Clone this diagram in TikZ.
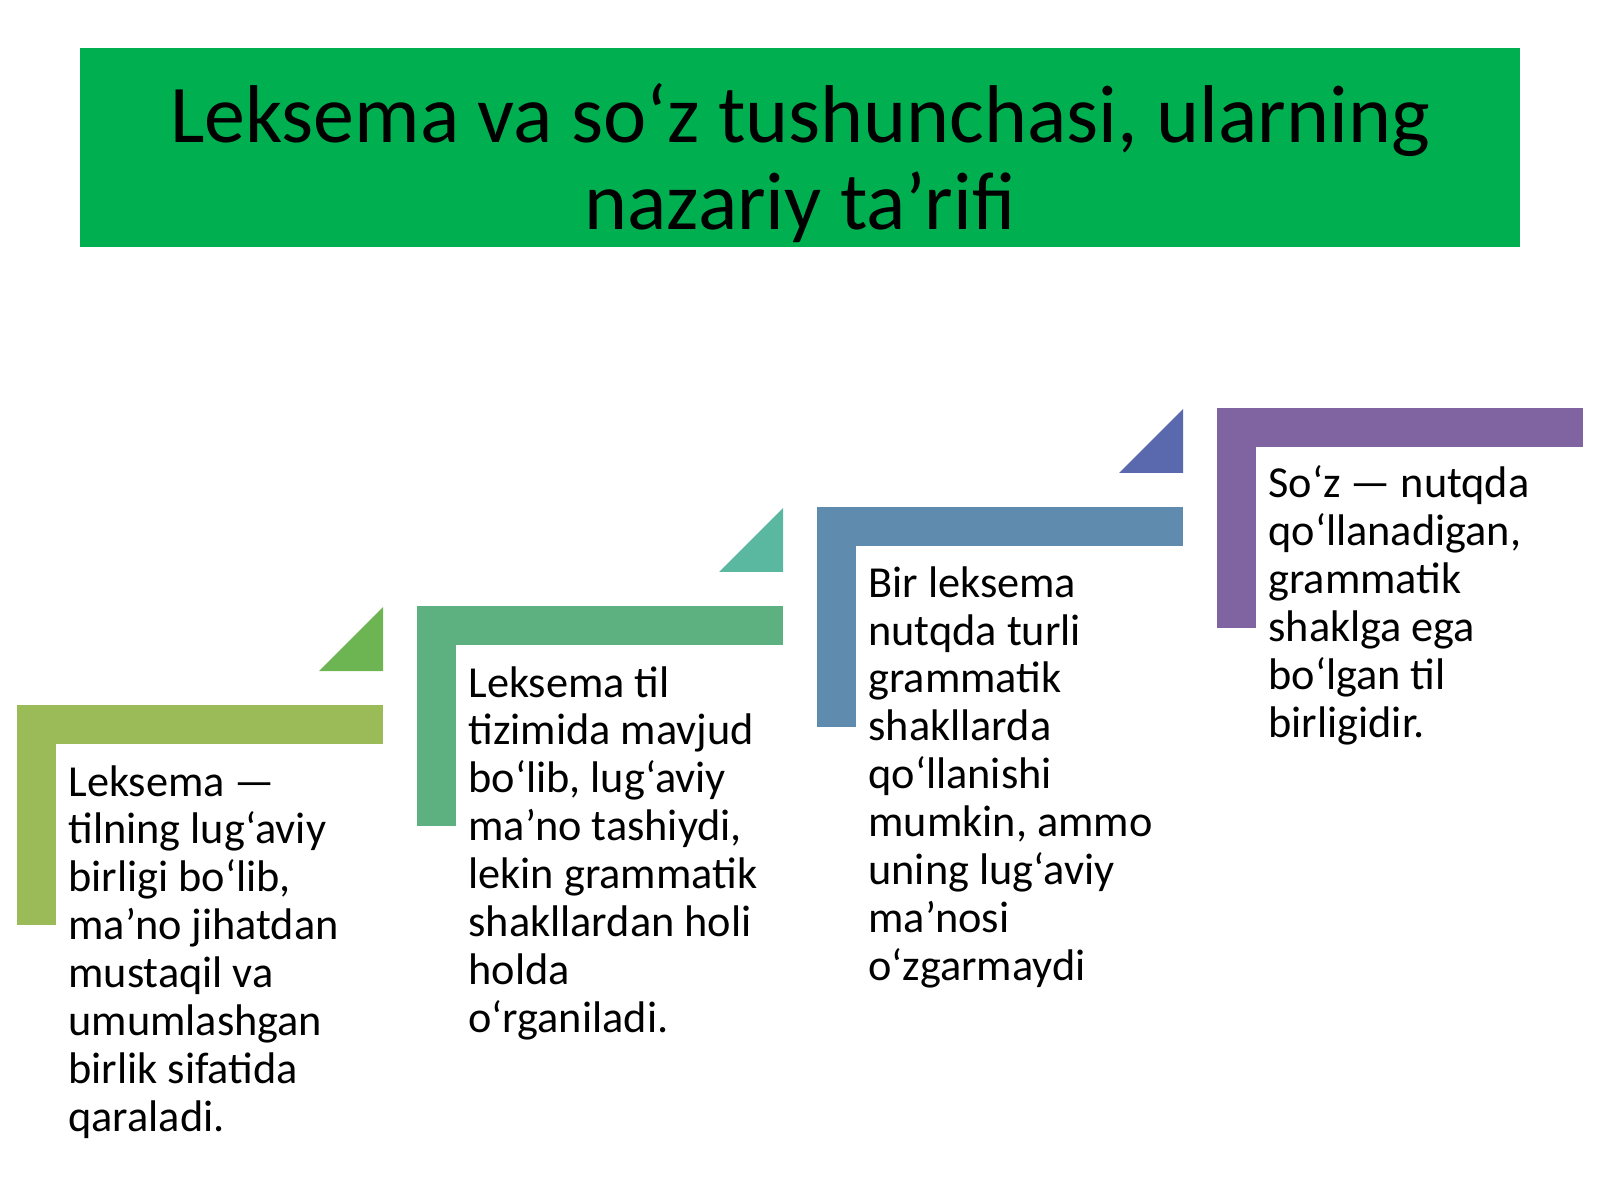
\documentclass[tikz,border=0pt]{standalone}
\usepackage{fontspec}
\setmainfont{Carlito}
\definecolor{titlegreen}{HTML}{00B050}
\definecolor{barA}{HTML}{9BBB59}
\definecolor{barB}{HTML}{5DB181}
\definecolor{barC}{HTML}{5F8BAF}
\definecolor{barD}{HTML}{8064A2}
\definecolor{triA}{HTML}{6CB552}
\definecolor{triB}{HTML}{5BB8A0}
\definecolor{triC}{HTML}{5A68AE}
\tikzset{
  steptext/.style={anchor=base west, align=left, inner sep=0pt,
    font=\fontsize{20}{21.6}\selectfont},
}

\begin{document}
\begin{tikzpicture}[x=0.015875cm, y=-0.015875cm]
  \useasboundingbox (0,0) rectangle (1600,1200);
  \fill[titlegreen] (80,48) rectangle (1520,247);
  \node(title) at (800,230) [anchor=base, align=center, inner sep=0pt,
       font=\fontsize{37}{39.7}\selectfont]
       {Leksema va so‘z tushunchasi, ularning\\ nazariy ta’rifi};
  \foreach \i/\bar in {0/barA, 1/barB, 2/barC, 3/barD} {
    \fill[\bar] (17+400*\i,705-99*\i) rectangle ++(366,39);
    \fill[\bar] (17+400*\i,705-99*\i) rectangle ++(39,220);
  }
  \foreach \i/\tri in {0/triA, 1/triB, 2/triC}
    \fill[\tri] (383+400*\i,671-99*\i) -- ++(0,-64)
       -- ++(-64,64) -- cycle;
  \node(lexeme) at (68,1131) [steptext]
       {Leksema —\\ tilning lug‘aviy\\ birligi bo‘lib,\\
        ma’no jihatdan\\ mustaqil va\\ umumlashgan\\
        birlik sifatida\\ qaraladi.};
  \node(system) at (468,1032) [steptext]
       {Leksema til\\ tizimida mavjud\\ bo‘lib, lug‘aviy\\
        ma’no tashiydi,\\ lekin grammatik\\ shakllardan holi\\
        holda\\ o‘rganiladi.};
  \node(speech) at (868,980) [steptext]
       {Bir leksema\\ nutqda turli\\ grammatik\\ shakllarda\\
        qo‘llanishi\\ mumkin, ammo\\ uning lug‘aviy\\
        ma’nosi\\ o‘zgarmaydi};
  \node(word) at (1268,737) [steptext]
       {So‘z — nutqda\\ qo‘llanadigan,\\ grammatik\\
        shaklga ega\\ bo‘lgan til\\ birligidir.};
\end{tikzpicture}
\end{document}
